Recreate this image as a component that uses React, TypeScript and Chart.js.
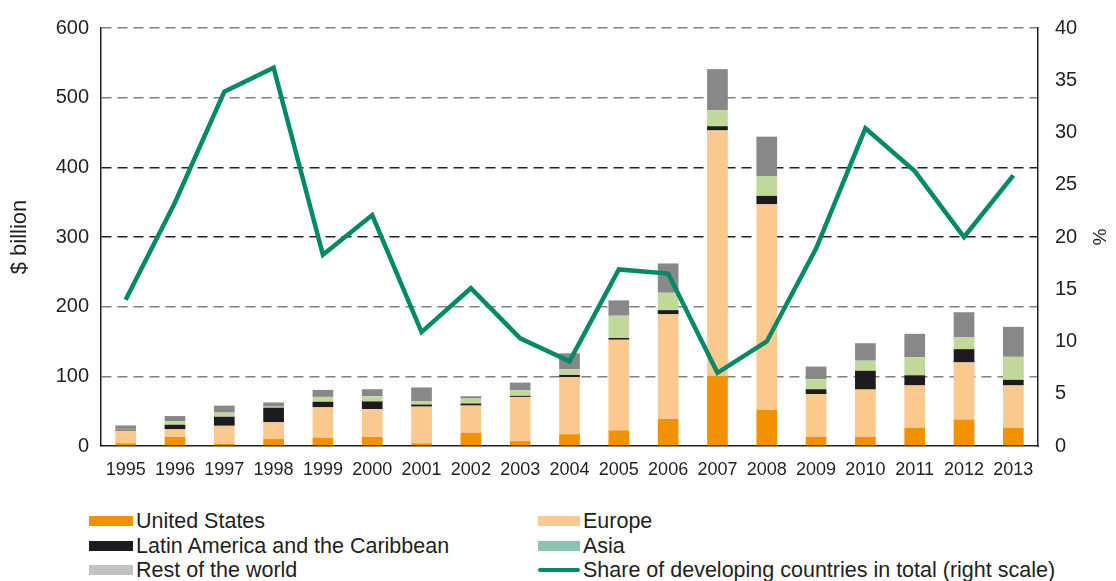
import React, { useEffect, useRef } from "react";
import { Chart, registerables } from "chart.js";

Chart.register(...registerables);

const years = ["1995", "1996", "1997", "1998", "1999", "2000", "2001", "2002", "2003", "2004", "2005", "2006", "2007", "2008", "2009", "2010", "2011", "2012", "2013"];
const unitedStates = [4, 13, 3, 10, 12, 13, 4, 19, 7, 17, 22.5, 39, 101, 52, 13, 13, 26, 38, 26];
const europe = [18, 11, 26, 24, 43.5, 40, 52.5, 39, 63.5, 82, 130, 150, 352, 295, 61.5, 68, 61, 82, 61];
const latinAmerica = [1.5, 6.5, 13, 21, 8, 11, 3, 3, 1.5, 3, 2.5, 6, 6, 12, 7, 27, 14.5, 19, 8];
const asia = [1, 5, 6, 1.5, 7, 7.5, 5, 7, 8, 8, 32, 25, 23, 28, 14.5, 14.5, 26, 17, 33];
const restOfWorld = [5, 7.5, 10, 6, 10, 10, 19.5, 3.5, 11, 23, 22, 42, 59, 57, 18, 25, 33.5, 36, 43];
const developingShare = [14.0, 23.3, 33.9, 36.2, 18.3, 22.1, 10.9, 15.1, 10.3, 8.1, 16.9, 16.5, 7.0, 10.0, 18.9, 30.4, 26.3, 20.0, 25.9];

const leftTicks = [0, 100, 200, 300, 400, 500, 600];
const rightTicks = [0, 5, 10, 15, 20, 25, 30, 35, 40];

const FONT = "'Liberation Sans', Arial, Helvetica, sans-serif";

const legendLeft = [
  { label: "United States", color: "#f39200", type: "box" },
  { label: "Latin America and the Caribbean", color: "#1d1b1f", type: "box" },
  { label: "Rest of the world", color: "#c2c2c2", type: "box" },
];
const legendRight = [
  { label: "Europe", color: "#fbc98e", type: "box" },
  { label: "Asia", color: "#8cc4b0", type: "box" },
  { label: "Share of developing countries in total (right scale)", color: "#008a68", type: "line" },
];

function LegendColumn({ items, left, swatchW }: { items: any[]; left: number; swatchW: number }) {
  return (
    <div style={{ position: "absolute", left, top: 501 }}>
      {items.map((it) => (
        <div key={it.label} style={{ display: "flex", alignItems: "center", height: 24.5, whiteSpace: "nowrap" }}>
          <div
            style={{
              width: swatchW,
              height: it.type === "line" ? 4 : 10,
              borderRadius: it.type === "line" ? 2 : 0,
              background: it.color,
              marginRight: 3,
              flex: "none",
            }}
          />
          <span style={{ fontFamily: FONT, fontSize: 21.5, color: "#231f20", lineHeight: "24px" }}>{it.label}</span>
        </div>
      ))}
    </div>
  );
}

export default function App() {
  const ref = useRef<HTMLCanvasElement | null>(null);

  useEffect(() => {
    document.documentElement.style.overflow = "hidden";
    document.body.style.overflow = "hidden";
    if (!ref.current) return;
    const chart = new Chart(ref.current, {
      data: {
        labels: years,
        datasets: [
          { type: "line", label: "Share of developing countries in total (right scale)", data: developingShare, yAxisID: "y1", borderColor: "#008a68", borderWidth: 4.5, pointRadius: 0, tension: 0, order: 0, borderJoinStyle: "miter" },
          { type: "bar", label: "United States", data: unitedStates, backgroundColor: "#f39200", stack: "s", order: 1 },
          { type: "bar", label: "Europe", data: europe, backgroundColor: "#fbc98e", stack: "s", order: 1 },
          { type: "bar", label: "Latin America and the Caribbean", data: latinAmerica, backgroundColor: "#1d1b1f", stack: "s", order: 1 },
          { type: "bar", label: "Asia", data: asia, backgroundColor: "#c1d89b", stack: "s", order: 1 },
          { type: "bar", label: "Rest of the world", data: restOfWorld, backgroundColor: "#888888", stack: "s", order: 1 },
        ] as any,
      },
      options: {
        animation: false,
        responsive: false,
        layout: { padding: { top: 20, left: 0, right: 0, bottom: 0 } },
        datasets: { bar: { categoryPercentage: 1, barPercentage: 0.42 } } as any,
        plugins: { legend: { display: false }, tooltip: { enabled: false } },
        scales: {
          x: {
            stacked: true,
            grid: { display: false, drawTicks: false },
            border: { display: true, color: "#231f20", width: 1.5 },
            ticks: { color: "#231f20", font: { family: FONT, size: 18 }, padding: 13, maxRotation: 0, autoSkip: false },
            afterFit: (s: any) => { s.height = 52; },
          },
          y: {
            stacked: true,
            position: "left",
            min: 0,
            max: 600,
            afterBuildTicks: (s: any) => { s.ticks = leftTicks.map((v) => ({ value: v })); },
            grid: {
              drawTicks: true,
              tickLength: 12,
              tickColor: "rgba(0,0,0,0)",
              color: (c: any) => (c.tick && c.tick.value === 0 ? "rgba(0,0,0,0)" : (c.tick && (c.tick.value === 300 || c.tick.value === 400) ? "#231f20" : "#808080")),
              lineWidth: 1.5,
            },
            border: { display: true, color: "#231f20", width: 1.5, dash: [10, 6] },
            ticks: { color: "#231f20", font: { family: FONT, size: 20 }, padding: 0 },
            title: { display: true, text: "$ billion", color: "#231f20", font: { family: FONT, size: 22, lineHeight: 1.1 }, padding: 0 },
            afterFit: (s: any) => { s.width = 93; },
          },
          y1: {
            position: "right",
            min: 0,
            max: 40,
            afterBuildTicks: (s: any) => { s.ticks = rightTicks.map((v) => ({ value: v })); },
            grid: { drawOnChartArea: false, drawTicks: true, tickLength: 17, tickColor: "rgba(0,0,0,0)" },
            border: { display: true, color: "#231f20", width: 1.5 },
            ticks: { color: "#231f20", font: { family: FONT, size: 20 }, padding: 0 },
            title: { display: true, text: "%", color: "#231f20", font: { family: FONT, size: 19, lineHeight: 1.0 }, padding: 0 },
            afterFit: (s: any) => { s.width = 70; },
          },
        },
      } as any,
    });
    return () => chart.destroy();
  }, []);

  return (
    <div style={{ position: "relative", width: 1100, height: 573 }}>
      <canvas ref={ref} width={1100} height={490} style={{ display: "block", width: 1100, height: 490 }} />
      <LegendColumn items={legendLeft} left={81} swatchW={44} />
      <LegendColumn items={legendRight} left={530} swatchW={42} />
    </div>
  );
}
